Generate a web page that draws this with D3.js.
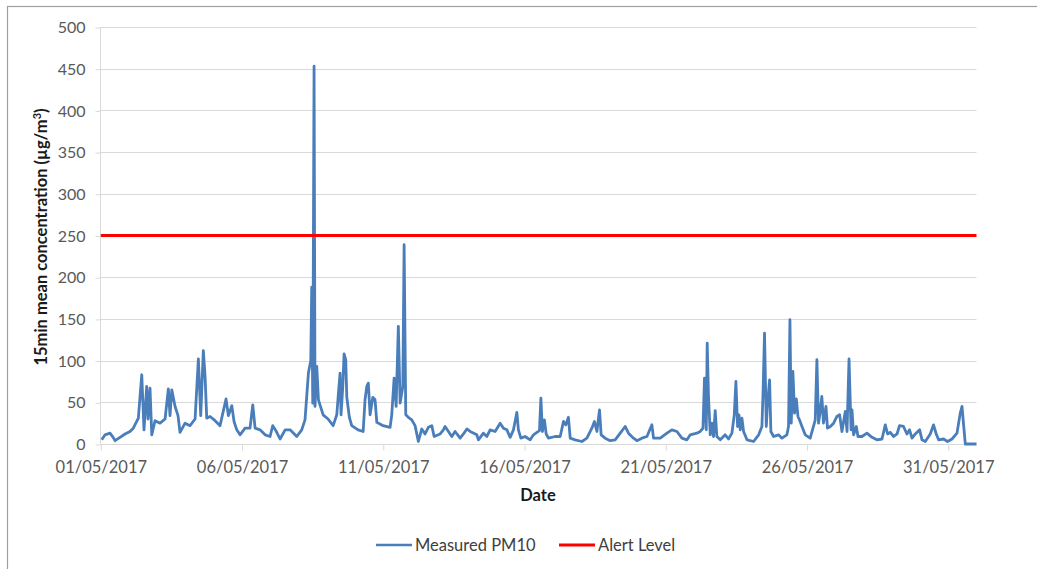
<!DOCTYPE html>
<html><head><meta charset="utf-8">
<script src="https://cdn.jsdelivr.net/npm/d3@7"></script>
<style>
body{margin:0;background:#fff;}
text{font-family:Lato,"Noto Sans",sans-serif;}
</style></head>
<body><svg id="c" width="1037" height="569"></svg>
<script>
// Hours since 01/05/2017 00:00
const hours = [0.8,3.6,7.8,10.5,12.1,16.3,20.6,24.8,27.6,31.9,34.8,36.7,39.0,40.1,41.8,43.3,46.1,50.3,54.6,57.4,58.8,60.3,63.1,65.6,67.3,71.6,75.8,80.1,82.9,84.9,87.1,88.6,90.0,92.8,97.1,101.3,106.4,108.4,111.3,113.2,115.5,118.3,122.6,126.8,129.1,131.1,135.3,139.6,143.8,146.1,149.5,152.3,156.6,160.8,166.5,170.7,
173.5,176.4,178.4,179.2,180.1,181.2,182.0,183.5,184.9,188.9,193.1,197.4,200.5,201.9,203.3,204.1,205.6,206.7,208.1,209.0,211.2,213.2,218.6,222.9,224.5,226.0,227.3,228.8,231.1,233.0,234.5,239.8,245.8,247.2,249.2,250.9,252.8,254.3,256.6,257.7,259.1,261.3,264.2,267.0,269.8,272.7,275.5,278.3,281.2,283.2,288.3,
291.1,292.5,298.2,301.0,305.3,308.1,311.0,313.8,319.5,320.8,325.1,328.0,330.8,335.0,339.3,342.1,345.0,347.8,350.6,353.5,354.8,356.9,360.5,364.8,
367.6,370.5,372.7,373.9,375.2,376.9,378.4,380.3,386.0,390.3,393.1,395.1,397.3,398.8,403.0,408.7,413.0,417.2,419.4,421.5,423.7,425.1,428.5,432.8,437.0,441.3,445.5,448.3,452.6,455.5,459.7,464.0,468.2,469.6,475.3,481.0,485.2,489.5,493.7,498.0,
500.8,506.4,509.3,511.6,512.9,514.4,515.2,516.3,517.8,519.2,520.6,522.0,523.4,526.3,530.5,533.3,536.2,538.2,539.6,541.0,542.2,543.3,544.7,546.1,549.0,554.6,558.9,561.7,562.6,563.9,565.4,566.5,568.2,569.3,571.6,575.8,578.7,582.9,584.3,585.5,586.6,588.0,589.4,590.9,592.3,593.6,595.7,598.5,602.7,607.0,608.4,609.8,611.2,612.6,614.0,616.1,617.4,619.8,622.6,625.4,627.7,629.7,632.5,634.0,635.7,637.4,638.2,639.6,641.9,643.3,646.7,
650.9,655.2,659.4,663.7,666.5,668.5,670.7,673.6,676.5,678.6,682.0,684.9,687.1,689.2,692.0,695.7,697.7,700.5,704.7,707.5,709.8,711.8,716.0,719.4,723.2,727.4,730.2,731.7,733.1,734.5,744.0];
const pm10 = [5,11,13,8,4,8,12,15,19,31,83,17,69,30,67,11,28,25,30,66,34,65,45,34,14,25,22,30,102,34,112,81,31,33,28,22,54,34,46,27,17,11,19,19,47,19,17,11,9,22,14,6,17,17,9,17,
29,85,100,188,49,453,45,93,53,35,30,22,35,61,85,35,69,108,101,56,32,22,17,15,53,69,73,35,56,53,26,22,20,35,79,45,141,49,69,239,35,32,29,22,3,18,12,20,22,9,12,
17,21,9,15,7,12,18,15,11,5,13,9,17,15,25,19,17,8,17,38,17,7,9,5,
11,14,16,55,15,29,12,7,9,9,27,23,32,7,5,3,7,19,27,15,41,11,7,4,5,13,21,13,7,4,7,9,23,7,7,13,17,15,7,5,
11,13,15,19,79,17,121,57,11,25,9,40,9,5,11,6,13,35,75,21,35,17,31,15,5,3,11,21,59,133,21,49,77,15,9,11,7,11,21,149,25,87,37,54,33,29,21,11,7,29,101,25,39,57,25,45,19,21,25,33,35,15,39,15,102,17,41,11,21,9,9,
13,8,5,6,23,12,14,9,12,22,21,12,17,7,12,17,5,3,12,23,12,5,6,3,6,13,37,45,22,0,0];
const alertLevel = 250;
const yTicks = [0,50,100,150,200,250,300,350,400,450,500];
const xTickDays = [1,6,11,16,21,26,31];
const seriesNames = ["Measured PM10","Alert Level"];

const svg = d3.select("#c");
const start = Date.UTC(2017,4,1), end = Date.UTC(2017,5,1);
const data = hours.map((h,i)=>({t:new Date(start+h*3600e3), v:pm10[i]}));

const x = d3.scaleUtc().domain([new Date(start), new Date(end)]).range([100.8, 976.5]);
const y = d3.scaleLinear().domain([0,500]).range([444, 27]);

// border
svg.append("rect").attr("x",7.5).attr("y",6.5).attr("width",1200).attr("height",800)
  .attr("fill","none").attr("stroke","#a0a0a0").attr("stroke-width",1.2);

// gridlines
svg.append("g").selectAll("line").data(yTicks.filter(d=>d>0)).join("line")
  .attr("x1",100.5).attr("x2",976.5).attr("y1",d=>Math.round(y(d))+0.5).attr("y2",d=>Math.round(y(d))+0.5)
  .attr("stroke","#d9d9d9").attr("stroke-width",1);

// y axis
const ya = svg.append("g").attr("transform","translate(100.5,0.5)")
  .call(d3.axisLeft(y).tickValues(yTicks).tickSize(5).tickPadding(10));
ya.select(".domain").attr("stroke","#d9d9d9").attr("d","M0,"+Math.round(y(500))+"V"+Math.round(y(0)));
ya.selectAll(".tick line").attr("stroke","#d9d9d9");
ya.selectAll(".tick text").attr("font-size",16).attr("fill","#595959").attr("font-family","Lato");

// x axis
const xTicks = xTickDays.map(d=>new Date(Date.UTC(2017,4,d)));
const xa = svg.append("g").attr("transform","translate(0,444.5)")
  .call(d3.axisBottom(x).tickValues(xTicks).tickSize(6).tickPadding(11).tickFormat(d3.utcFormat("%d/%m/%Y")));
xa.select(".domain").attr("stroke","#d9d9d9").attr("d","M100.8,0H976.5");
xa.selectAll(".tick line").attr("stroke","#d9d9d9");
xa.selectAll(".tick text").attr("font-size",16.5).attr("fill","#595959").attr("font-family","Lato");

// series line
const line = d3.line().x(d=>x(d.t)).y(d=>y(d.v));
svg.append("path").datum(data).attr("d",line).attr("fill","none")
  .attr("stroke","#4a7ebb").attr("stroke-width",2.8).attr("stroke-linejoin","round");

// alert level
svg.append("line").attr("x1",x(new Date(start))).attr("x2",x(new Date(end)))
  .attr("y1",y(alertLevel)).attr("y2",y(alertLevel)).attr("stroke","#ff0000").attr("stroke-width",3);

// axis titles
const yt = svg.append("text").attr("transform","translate(47,237) rotate(-90)")
  .attr("text-anchor","middle").attr("font-size",16.5).attr("font-weight","bold").attr("fill","#1a1a1a");
yt.append("tspan").text("15min mean concentration (µg/m");
yt.append("tspan").attr("font-size",11).attr("dy",-6).text("3");
yt.append("tspan").attr("dy",6).text(")");

svg.append("text").attr("x",538).attr("y",501).attr("text-anchor","middle")
  .attr("font-size",16.5).attr("font-weight","bold").attr("fill","#1a1a1a").text("Date");

// legend
const leg = [{name:seriesNames[0],c:"#4a7ebb",w:2.6,x:376},{name:seriesNames[1],c:"#ff0000",w:3,x:559}];
const lg = svg.append("g").selectAll("g").data(leg).join("g");
lg.append("line").attr("x1",d=>d.x).attr("x2",d=>d.x+36).attr("y1",545).attr("y2",545)
  .attr("stroke",d=>d.c).attr("stroke-width",d=>d.w);
lg.append("text").attr("x",d=>d.x+39).attr("y",551).attr("font-size",16.5).attr("fill","#404040").text(d=>d.name);
</script></body></html>
